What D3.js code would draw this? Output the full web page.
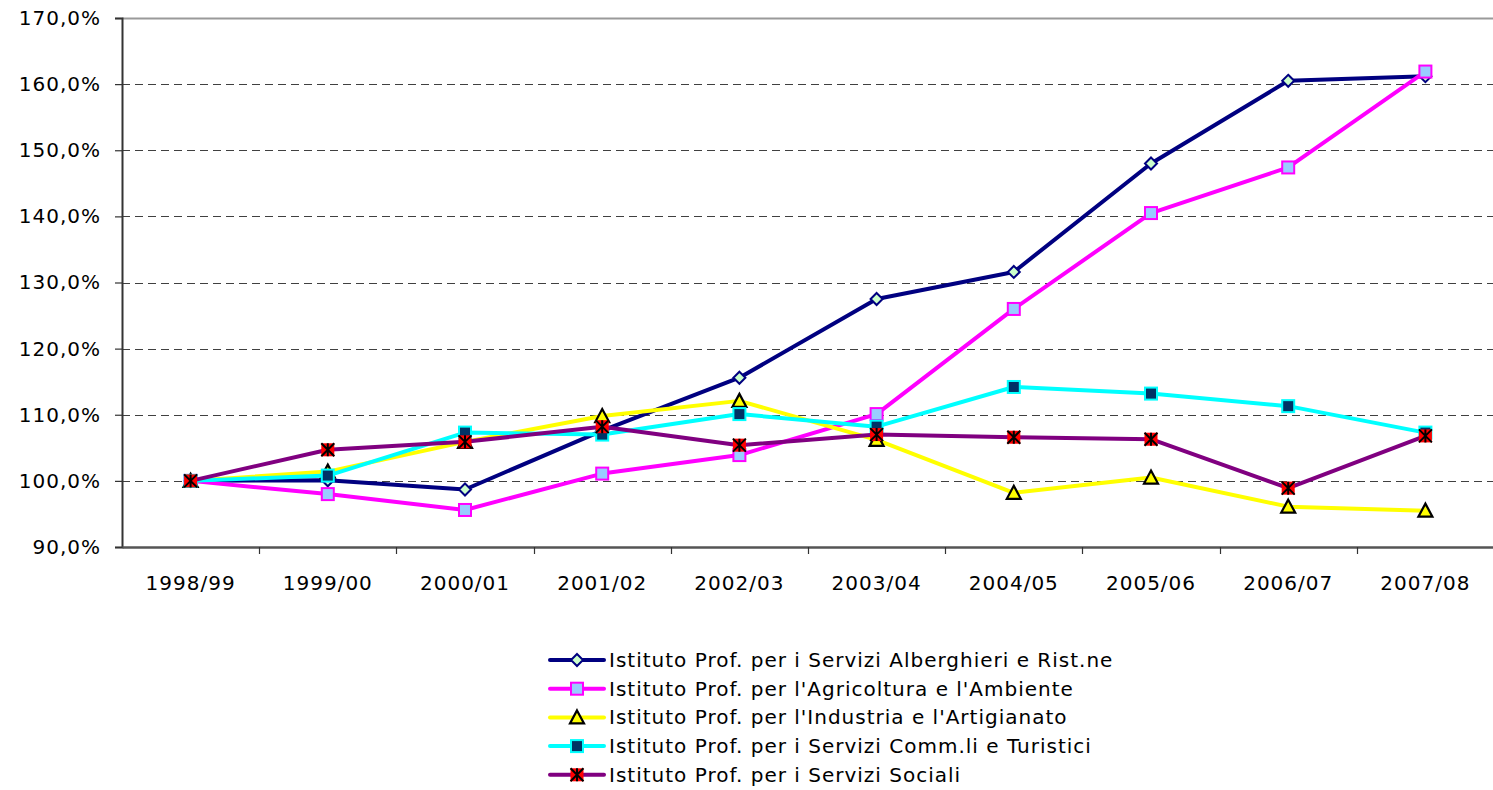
<!DOCTYPE html>
<html><head><meta charset="utf-8">
<script src="https://cdn.jsdelivr.net/npm/d3@7/dist/d3.min.js"></script>
<style>body{margin:0;background:#fff;} svg{display:block;}</style>
</head><body>
<script>
const categories = ["1998/99","1999/00","2000/01","2001/02","2002/03","2003/04","2004/05","2005/06","2006/07","2007/08"];
const seriesNames = [
  "Istituto Prof. per i Servizi Alberghieri e Rist.ne",
  "Istituto Prof. per l'Agricoltura e l'Ambiente",
  "Istituto Prof. per l'Industria e l'Artigianato",
  "Istituto Prof. per i Servizi Comm.li e Turistici",
  "Istituto Prof. per i Servizi Sociali"
];
const alberghieri = [100, 100.1, 98.7, 107.6, 115.6, 127.5, 131.6, 148.0, 160.5, 161.2];
const agricoltura = [100, 98.0, 95.6, 101.1, 103.9, 110.1, 126.0, 140.5, 147.4, 161.9];
const industria   = [100, 101.4, 105.9, 109.8, 112.1, 106.2, 98.2, 100.5, 96.1, 95.5];
const commerciali = [100, 100.8, 107.3, 107.0, 110.1, 108.2, 114.2, 113.2, 111.3, 107.3];
const sociali     = [100, 104.7, 105.9, 108.2, 105.4, 107.0, 106.6, 106.3, 98.9, 106.8];
const yTicks = [90,100,110,120,130,140,150,160,170];

(function(){
const allSeries = [alberghieri, agricoltura, industria, commerciali, sociali];
const styles = [
  {line:"#000080", marker:"diamond", fill:"#CCFFCC", stroke:"#000080"},
  {line:"#FF00FF", marker:"square", fill:"#99CCFF", stroke:"#FF00FF"},
  {line:"#FFFF00", marker:"triangle", fill:"#FFFF00", stroke:"#000000"},
  {line:"#00FFFF", marker:"square", fill:"#003366", stroke:"#00FFFF"},
  {line:"#800080", marker:"star", fill:"#FF0000", stroke:"#000000"}
];

const W = 1493, H = 790;
const mLeft = 122, mRight = 1494, mTop = 18, mBottom = 547;
const font = "'DejaVu Sans', Verdana, sans-serif";
const fs = 20, ls = "1px";

const svg = d3.select("body").append("svg").attr("width", W).attr("height", H);

const x = d3.scaleBand().domain(categories).range([mLeft, mRight]);
const y = d3.scaleLinear().domain([90,170]).range([mBottom, mTop]);

// gridlines
svg.append("g").selectAll("line").data(yTicks.filter(t => t>90 && t<170)).join("line")
  .attr("x1", mLeft).attr("x2", mRight)
  .attr("y1", d => Math.round(y(d))+0.5).attr("y2", d => Math.round(y(d))+0.5)
  .attr("stroke", "#404040").attr("stroke-width", 1).attr("stroke-dasharray", "8,5");

// top border
svg.append("line").attr("x1", mLeft).attr("x2", mRight).attr("y1", mTop+0.5).attr("y2", mTop+0.5)
  .attr("stroke", "#9a9a9a").attr("stroke-width", 2);

// y axis
const yAxis = d3.axisLeft(y).tickValues(yTicks).tickSize(7).tickPadding(5)
  .tickFormat(d => d3.format(".1f")(d).replace(".", ",") + "%");
const gy = svg.append("g").attr("transform", `translate(${mLeft},0)`).call(yAxis);
gy.select(".domain").attr("stroke", "#333").attr("stroke-width", 2);
gy.selectAll(".tick line").attr("stroke", "#333").attr("stroke-width", 1.2);
gy.selectAll("text").attr("font-family", font).attr("font-size", fs).attr("letter-spacing", ls)
  .attr("fill", "#000").attr("x", -21);

// x axis
const xAxis = d3.axisBottom(x).tickSize(0).tickPadding(25);
const gx = svg.append("g").attr("transform", `translate(0,${mBottom})`).call(xAxis);
gx.select(".domain").attr("stroke", "#555").attr("stroke-width", 2.5);
gx.selectAll("text").attr("font-family", font).attr("font-size", fs).attr("letter-spacing", ls)
  .attr("fill", "#000").attr("dy", "0.9em");
// category boundary ticks
svg.append("g").selectAll("line").data(categories.slice(1)).join("line")
  .attr("x1", d => Math.round(x(d))+0.5).attr("x2", d => Math.round(x(d))+0.5)
  .attr("y1", mBottom).attr("y2", mBottom+7).attr("stroke", "#333").attr("stroke-width", 1.2);

const cx = c => x(c) + x.bandwidth()/2;

function drawMarker(g, st, px, py) {
  if (st.marker === "diamond") {
    const s = 6;
    g.append("path").attr("d", `M${px},${py-s}L${px+s},${py}L${px},${py+s}L${px-s},${py}Z`)
      .attr("fill", st.fill).attr("stroke", st.stroke).attr("stroke-width", 2);
  } else if (st.marker === "square") {
    const s = 6;
    g.append("rect").attr("x", px-s).attr("y", py-s).attr("width", 2*s).attr("height", 2*s)
      .attr("fill", st.fill).attr("stroke", st.stroke).attr("stroke-width", 2);
  } else if (st.marker === "triangle") {
    const s = 7;
    g.append("path").attr("d", `M${px},${py-s}L${px+s},${py+s-1}L${px-s},${py+s-1}Z`)
      .attr("fill", st.fill).attr("stroke", st.stroke).attr("stroke-width", 2.2).attr("stroke-linejoin","miter");
  } else if (st.marker === "star") {
    const s = 6.5;
    g.append("rect").attr("x", px-s).attr("y", py-s).attr("width", 2*s).attr("height", 2*s)
      .attr("fill", st.fill);
    g.append("path").attr("d", `M${px-s},${py-s}L${px+s},${py+s}M${px+s},${py-s}L${px-s},${py+s}M${px},${py-s}L${px},${py+s}`)
      .attr("stroke", st.stroke).attr("stroke-width", 2);
  }
}

const line = d3.line().x((d,i) => cx(categories[i])).y(d => y(d));
allSeries.forEach((vals, si) => {
  const st = styles[si];
  const g = svg.append("g");
  g.append("path").datum(vals).attr("d", line).attr("fill", "none")
    .attr("stroke", st.line).attr("stroke-width", 4).attr("stroke-linejoin", "round");
  vals.forEach((v, i) => drawMarker(g, st, cx(categories[i]), y(v)));
});

// legend
const lg = svg.append("g");
seriesNames.forEach((name, i) => {
  const st = styles[i];
  const ly = 660 + i * 28.7;
  lg.append("line").attr("x1", 550).attr("x2", 604).attr("y1", ly).attr("y2", ly)
    .attr("stroke", st.line).attr("stroke-width", 4).attr("stroke-linecap", "round");
  drawMarker(lg, st, 577, ly);
  lg.append("text").attr("x", 609).attr("y", ly).attr("dy", "0.35em")
    .attr("font-family", font).attr("font-size", fs).attr("letter-spacing", ls)
    .attr("fill", "#000").text(name);
});
})();
</script>
</body></html>
